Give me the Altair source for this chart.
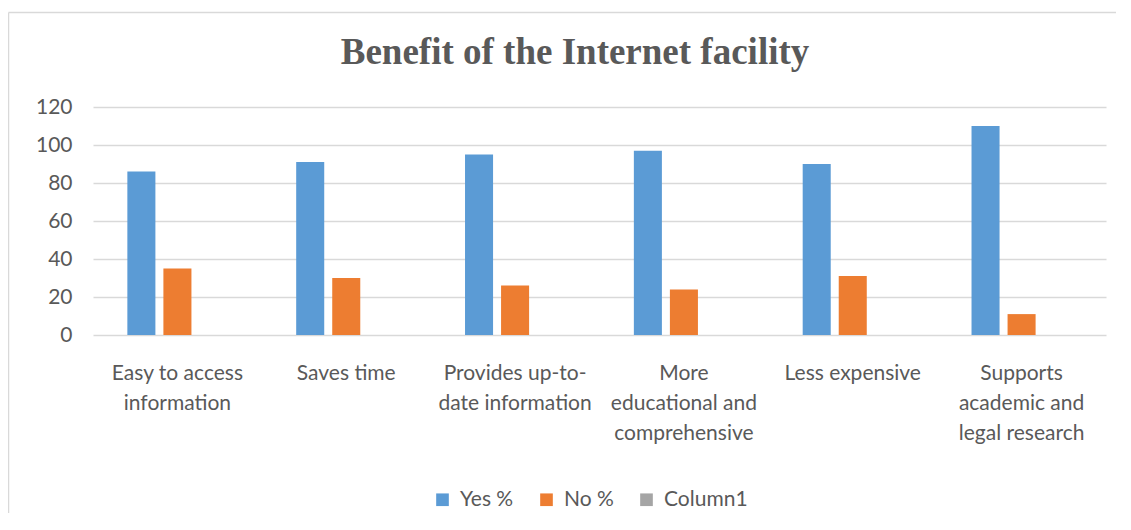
import altair as alt
import pandas as pd

categories = [
    "Easy to access|information",
    "Saves time",
    "Provides up-to-|date information",
    "More|educational and|comprehensive",
    "Less expensive",
    "Supports|academic and|legal research",
]
yes_pct = [86, 91, 95, 97, 90, 110]
no_pct = [35, 30, 26, 24, 31, 11]
series = ["Yes %", "No %", "Column1"]
colors = ["#5B9BD5", "#ED7D31", "#A5A5A5"]
y_ticks = [0, 20, 40, 60, 80, 100, 120]
title_text = "Benefit of the Internet facility"

rows = []
for c, y, n in zip(categories, yes_pct, no_pct):
    rows.append({"cat": c, "series": "Yes %", "value": y})
    rows.append({"cat": c, "series": "No %", "value": n})
df = pd.DataFrame(rows)

W, H = 1013, 228
FONT = "Lato"
GREY = "#595959"

bars = alt.Chart(df).mark_bar().encode(
    x=alt.X("cat:N", sort=categories,
            scale=alt.Scale(paddingInner=0.407, paddingOuter=0.2035),
            axis=alt.Axis(title=None, labelAngle=0, labelExpr="split(datum.label, '|')",
                          labelFont=FONT, labelFontSize=21, labelColor=GREY,
                          labelLineHeight=30, labelPadding=27, ticks=False,
                          domain=False, labelBaseline="top")),
    xOffset=alt.XOffset("series:N", sort=series,
                        scale=alt.Scale(domain=series, paddingInner=0.222, paddingOuter=0)),
    y=alt.Y("value:Q", scale=alt.Scale(domain=[0, 120], nice=False),
            axis=alt.Axis(title=None, values=y_ticks, ticks=False, domain=False,
                          labelFont=FONT, labelFontSize=21, labelColor=GREY,
                          labelPadding=21, gridColor="#D9D9D9", gridWidth=1.5)),
    color=alt.Color("series:N", sort=series,
                    scale=alt.Scale(domain=series, range=colors),
                    legend=alt.Legend(title=None, orient="none", direction="horizontal",
                                      legendX=339, legendY=382, symbolType="square",
                                      symbolSize=160, symbolStrokeWidth=0,
                                      labelFont=FONT, labelFontSize=21, labelColor=GREY,
                                      labelOffset=7, columnPadding=22)),
)

one = pd.DataFrame({"t": [title_text]})

top_line = alt.Chart(one).mark_rule(stroke="#D9D9D9", strokeWidth=1.5).encode(
    x=alt.value(-84.5), x2=alt.value(1040), y=alt.value(-94.5), y2=alt.value(-94.5)
)
left_line = alt.Chart(one).mark_rule(stroke="#D9D9D9", strokeWidth=1.5).encode(
    x=alt.value(-84.5), x2=alt.value(-84.5), y=alt.value(-94.5), y2=alt.value(430)
)

title = alt.Chart(one).mark_text(
    font="Liberation Serif", fontSize=37, fontWeight="bold", color=GREY,
    align="center", baseline="alphabetic"
).encode(text="t:N", x=alt.value(482), y=alt.value(-43))

chart = alt.layer(top_line, left_line, bars, title).properties(
    width=W, height=H,
    autosize=alt.AutoSizeParams(type="none"),
    padding={"left": 85, "top": 99, "right": 10, "bottom": 178},
).configure(background="white", view=alt.ViewConfig(stroke=None))

chart.save("out.html", embed_options={"renderer": "svg", "actions": False})
